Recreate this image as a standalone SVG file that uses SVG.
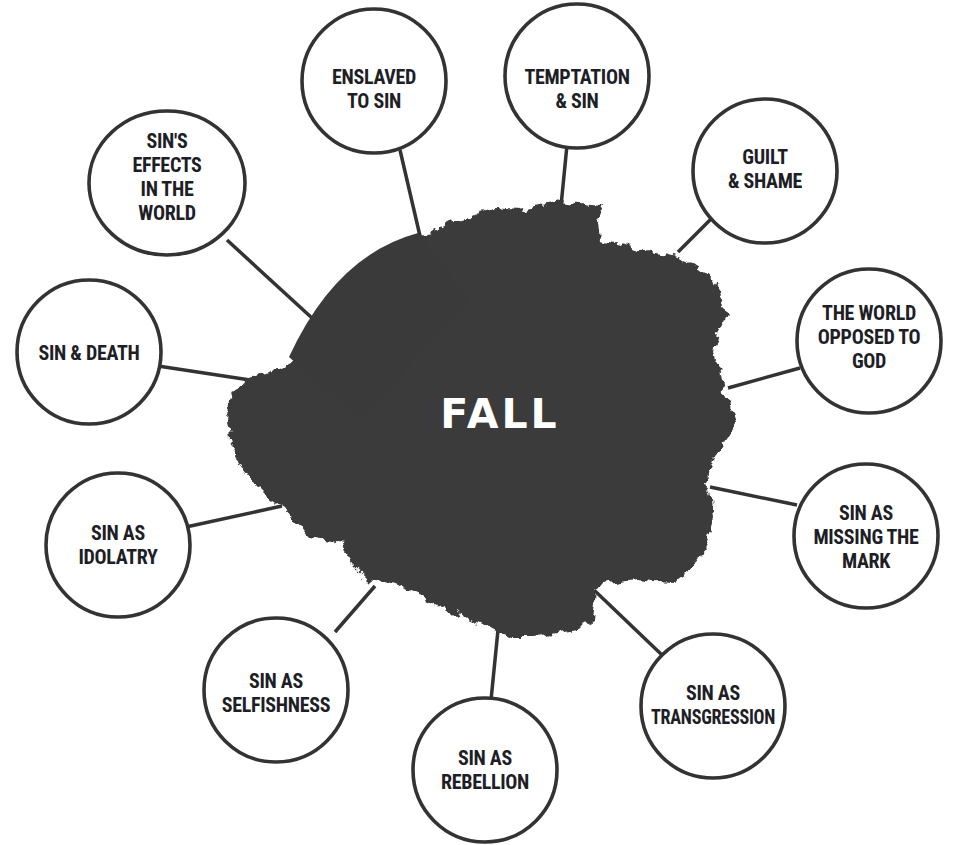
<svg xmlns="http://www.w3.org/2000/svg" width="959" height="845" viewBox="0 0 959 845">
<style>
.node ellipse{fill:#fff;stroke:#333;stroke-width:3.6}
.node text{font-family:"Roboto Condensed","Liberation Sans Narrow","DejaVu Sans Condensed","Liberation Sans",sans-serif;font-weight:700;font-size:20px;fill:#1e1e26;text-anchor:middle;letter-spacing:-0.3px}
#connectors line{stroke:#333;stroke-width:3.5}
.blob{fill:#3a3a3a}
.fall{font-family:"DejaVu Sans",sans-serif;font-weight:700;font-size:41px;fill:#fff;text-anchor:middle;letter-spacing:3px}
</style>
<defs>
<filter id="rough" x="-10%" y="-10%" width="120%" height="120%">
<feTurbulence type="fractalNoise" baseFrequency="0.09" numOctaves="3" seed="4" result="n"/>
<feDisplacementMap in="SourceGraphic" in2="n" scale="12" xChannelSelector="R" yChannelSelector="G"/>
</filter>
</defs>
<rect width="959" height="845" fill="#fff"/>
<g id="connectors">
<line x1="400" y1="150" x2="420" y2="236"/>
<line x1="567" y1="145" x2="561" y2="206"/>
<line x1="712" y1="218" x2="678" y2="252"/>
<line x1="800" y1="368" x2="728" y2="388"/>
<line x1="797" y1="505" x2="710" y2="487"/>
<line x1="662" y1="655" x2="594" y2="590"/>
<line x1="491" y1="700" x2="498" y2="630"/>
<line x1="335" y1="632" x2="375" y2="586"/>
<line x1="186" y1="527" x2="282" y2="506"/>
<line x1="158" y1="366" x2="250" y2="380"/>
<line x1="227" y1="240" x2="312" y2="318"/>
</g>
<g id="fall">
<path class="blob" filter="url(#rough)" d="M425,236 L450,222 471,218 485,210 496,208 520,210 540,205 561,201 580,203 604,205 598,222 600,240 625,245 650,252 675,256 695,265 714,280 722,300 727,317 718,335 714,352 720,370 724,390 736,423 725,440 718,452 710,470 707,485 712,500 714,520 708,540 700,557 690,572 675,583 655,582 636,580 615,583 596,587 595,605 593,620 575,630 557,633 535,637 514,637 495,632 479,623 460,615 443,607 425,598 407,590 385,582 368,580 350,563 343,543 325,540 307,537 295,522 286,510 268,497 254,483 240,465 232,443 228,420 229,403 235,390 243,380 260,375 271,373 292,362 Q340,265 425,236 Z"/>
<path class="blob" d="M289,357 Q336,255 418,233 L470,300 L360,420 Z"/>
<text class="fall" x="500" y="428">FALL</text>
</g>
<g id="n-enslaved" class="node"><ellipse cx="374" cy="81" rx="72" ry="72"/><text x="374" y="84">ENSLAVED</text><text x="374" y="108">TO SIN</text></g>
<g id="n-temptation" class="node"><ellipse cx="577" cy="76" rx="72" ry="72"/><text x="577" y="84">TEMPTATION</text><text x="577" y="108">&amp; SIN</text></g>
<g id="n-guilt" class="node"><ellipse cx="765" cy="171" rx="72" ry="72"/><text x="765" y="164">GUILT</text><text x="765" y="188">&amp; SHAME</text></g>
<g id="n-world" class="node"><ellipse cx="869" cy="341" rx="72" ry="72"/><text x="869" y="320">THE WORLD</text><text x="869" y="344">OPPOSED TO</text><text x="869" y="368">GOD</text></g>
<g id="n-mark" class="node"><ellipse cx="866" cy="536" rx="72" ry="72"/><text x="866" y="520">SIN AS</text><text x="866" y="544">MISSING THE</text><text x="866" y="568">MARK</text></g>
<g id="n-transgression" class="node"><ellipse cx="713" cy="706" rx="72" ry="72"/><text x="713" y="700">SIN AS</text><text x="713" y="724" textLength="124" lengthAdjust="spacingAndGlyphs">TRANSGRESSION</text></g>
<g id="n-rebellion" class="node"><ellipse cx="485" cy="770" rx="72" ry="72"/><text x="485" y="765">SIN AS</text><text x="485" y="789">REBELLION</text></g>
<g id="n-selfishness" class="node"><ellipse cx="276" cy="690" rx="72" ry="72"/><text x="276" y="688">SIN AS</text><text x="276" y="712">SELFISHNESS</text></g>
<g id="n-idolatry" class="node"><ellipse cx="118" cy="545" rx="72" ry="72"/><text x="118" y="540">SIN AS</text><text x="118" y="564">IDOLATRY</text></g>
<g id="n-death" class="node"><ellipse cx="89" cy="352" rx="72" ry="72"/><text x="89" y="360">SIN &amp; DEATH</text></g>
<g id="n-effects" class="node"><ellipse cx="167" cy="183" rx="78" ry="72"/><text x="167" y="148">SIN'S</text><text x="167" y="172">EFFECTS</text><text x="167" y="196">IN THE</text><text x="167" y="220">WORLD</text></g>
</svg>
